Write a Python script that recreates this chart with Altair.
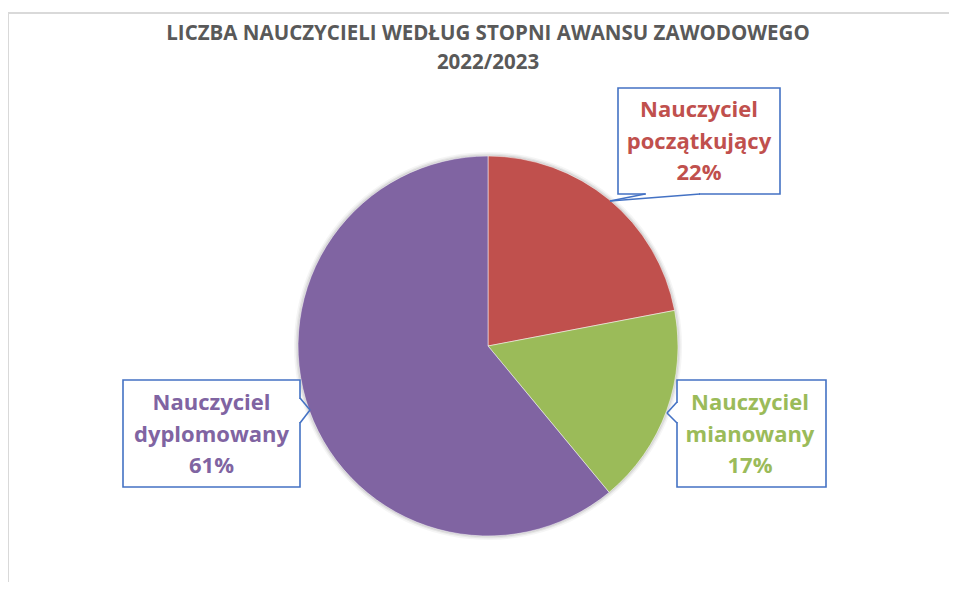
import altair as alt
import pandas as pd

# ---- data ----
categories = ["Nauczyciel początkujący", "Nauczyciel mianowany", "Nauczyciel dyplomowany"]
shares = [22, 17, 61]
colors = ["#C0504D", "#9BBB59", "#8064A2"]
title_lines = ["LICZBA NAUCZYCIELI WEDŁUG STOPNI AWANSU ZAWODOWEGO", "2022/2023"]

df = pd.DataFrame({
    "kategoria": categories,
    "udzial": shares,
    "kolejnosc": list(range(len(categories))),
})
df["etykieta"] = [
    c.replace("Nauczyciel ", "Nauczyciel\n") + "\n" + f"{s}%" for c, s in zip(categories, shares)
]

W, H = 941, 574
CX, CY, R = 480, 338, 190
BLUE = "#4472C4"
FONT = "Open Sans"

base = alt.Chart(df)

# chart border (decorative)
border = base.mark_rect(fill=None, stroke="#D9D9D9", strokeWidth=2).encode(
    x=alt.value(0), x2=alt.value(2000), y=alt.value(5), y2=alt.value(2000)
).transform_filter(alt.datum.kolejnosc == 0)

# soft shadow
shadows = []
for rr, op in [(R + 4, 0.04), (R + 2.5, 0.06), (R + 1.2, 0.08)]:
    shadows.append(
        base.mark_arc(radius=rr, fill="#000000", opacity=op).encode(
            x=alt.value(CX), y=alt.value(CY)
        ).transform_filter(alt.datum.kolejnosc == 0)
    )

pie = base.mark_arc(radius=R, stroke="#FFFFFF", strokeWidth=0.5).encode(
    theta=alt.Theta("udzial:Q", stack=True),
    color=alt.Color("kategoria:N", scale=alt.Scale(domain=categories, range=colors), legend=None),
    order=alt.Order("kolejnosc:Q"),
    x=alt.value(CX), y=alt.value(CY),
)

title = alt.Chart(pd.DataFrame({"t": ["\n".join(title_lines)]})).mark_text(
    font=FONT, fontSize=20.5, fontWeight="bold", color="#595959",
    align="center", baseline="alphabetic", lineBreak="\n", lineHeight=29,
).encode(text="t:N", x=alt.value(480), y=alt.value(32))


def callout(idx, x0, x1, y0, y1, tail, cover, tx, ty):
    layers = []
    f = alt.datum.kolejnosc == idx
    layers.append(base.mark_rect(fill="#FFFFFF", stroke=BLUE, strokeWidth=1.6).encode(
        x=alt.value(x0), x2=alt.value(x1), y=alt.value(y0), y2=alt.value(y1)
    ).transform_filter(f))
    (cx0, cy0), (cx1, cy1) = cover
    layers.append(base.mark_rule(color="#FFFFFF", strokeWidth=3).encode(
        x=alt.value(cx0), x2=alt.value(cx1), y=alt.value(cy0), y2=alt.value(cy1)
    ).transform_filter(f))
    for (ax, ay), (bx, by) in [(tail[0], tail[1]), (tail[1], tail[2])]:
        layers.append(base.mark_rule(color=BLUE, strokeWidth=1.6).encode(
            x=alt.value(ax), x2=alt.value(bx), y=alt.value(ay), y2=alt.value(by)
        ).transform_filter(f))
    layers.append(base.mark_text(
        font=FONT, fontSize=22, fontWeight="bold", align="center",
        baseline="alphabetic", lineBreak="\n", lineHeight=31.5,
    ).encode(
        text="etykieta:N",
        color=alt.Color("kategoria:N", scale=alt.Scale(domain=categories, range=colors), legend=None),
        x=alt.value(tx), y=alt.value(ty),
    ).transform_filter(f))
    return layers


c1 = callout(0, 610, 772, 80, 186,
             [(637, 186), (602, 193), (692, 186)], ((638, 186), (691, 186)), 691, 109)
c2 = callout(1, 669, 818, 372, 479,
             [(669, 394), (659, 405), (669, 415)], ((669, 395), (669, 414)), 742, 402)
c3 = callout(2, 115, 292, 372, 479,
             [(292, 390), (302, 402), (292, 415)], ((292, 391), (292, 414)), 203.5, 402)

chart = alt.layer(border, *shadows, pie, title, *c1, *c2, *c3).properties(
    width=W, height=H,
    autosize=alt.AutoSizeParams(type="none"),
    padding=0,
).configure_view(stroke=None)

chart.save("out.html", embed_options={"renderer": "svg", "actions": False})
